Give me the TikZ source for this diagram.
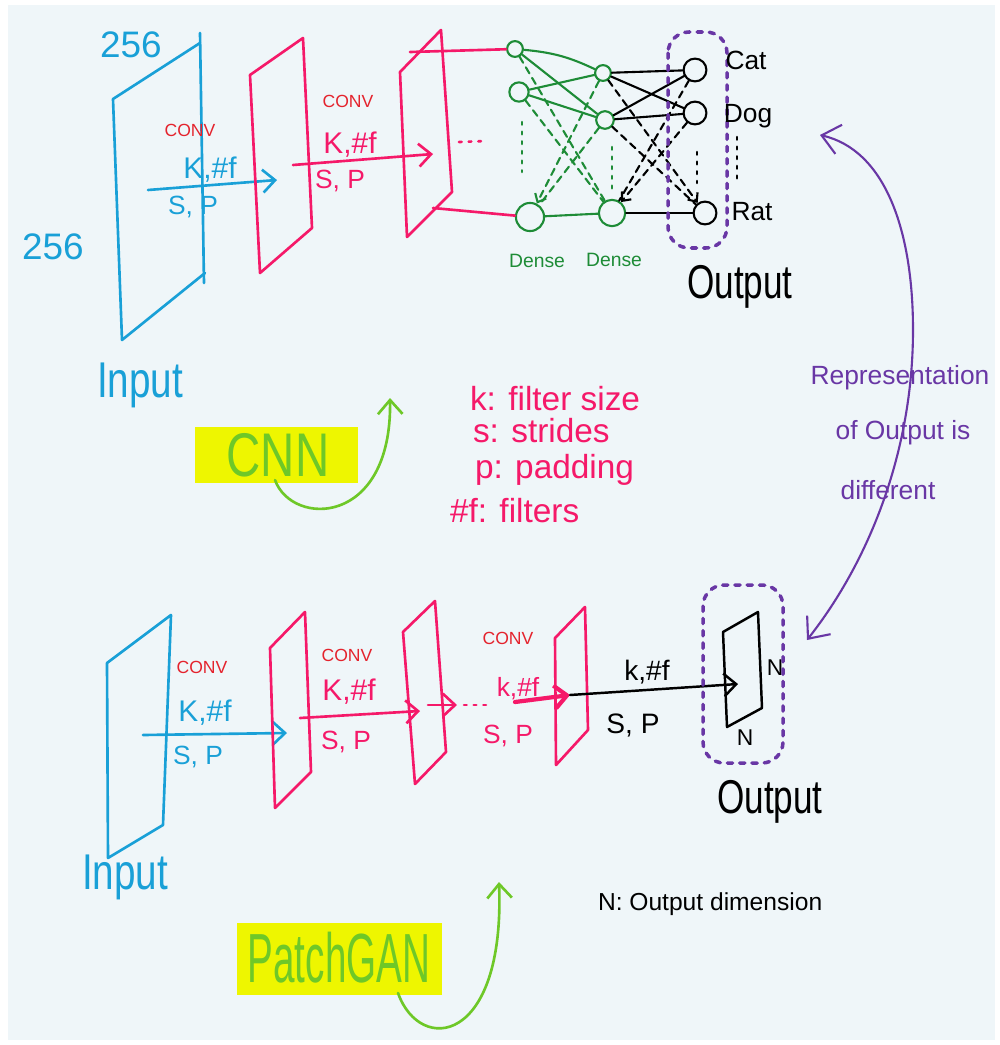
\documentclass[tikz,border=0pt]{standalone}
\usepackage{fontspec}
\setmainfont{Liberation Sans}
\usetikzlibrary{arrows.meta}
\definecolor{bgc}{RGB}{239,246,249}
\definecolor{cblue}{RGB}{25,160,215}
\definecolor{cpink}{RGB}{245,25,105}
\definecolor{cred}{RGB}{228,35,45}
\definecolor{cgreen}{RGB}{30,140,55}
\definecolor{lgreen}{RGB}{110,200,40}
\definecolor{hyellow}{RGB}{238,246,0}
\definecolor{cpurple}{RGB}{105,55,165}
\newcommand\fsz[1]{\fontsize{#1}{#1}\selectfont}
\newcommand\tallbox[2]{\scalebox{1}[#1]{#2}}
\begin{document}
\begin{tikzpicture}[x=0.02cm,y=-0.02cm,line cap=round,line join=round,
  >={Straight Barb[length=7pt,width=13pt]},
  txt/.style={inner sep=0pt,outer sep=0pt},
  bl/.style={draw=cblue,line width=1.5pt},
  pk/.style={draw=cpink,line width=1.5pt},
  bk/.style={draw=black,line width=1.2pt},
  gr/.style={draw=cgreen,line width=1.2pt},
  pu/.style={draw=cpurple,line width=1.2pt},
  lg/.style={draw=lgreen,line width=1.5pt},
  pudot/.style={draw=cpurple,line width=2pt,dash pattern=on 3pt off 4pt,rounded corners=12pt},
  dotln/.style={line width=1.5pt,dash pattern=on 1.5pt off 4pt},
  dashln/.style={dash pattern=on 4pt off 3pt},
  smallhead/.style={-{Straight Barb[length=4pt,width=7pt]}},
  neuron/.style={circle,draw,line width=1.2pt,inner sep=0pt,minimum size=#1},
  neuron/.default=12pt
]
\path[use as bounding box] (0,0) rectangle (1000,1045);
\fill[white] (0,0) rectangle (1000,1045);
\fill[bgc] (8,5) rectangle (995,1040);

% ---------------- TOP: CNN ----------------
\coordinate (i1a) at (113,99); \coordinate (i1b) at (200,43);
\coordinate (i1c) at (205,273); \coordinate (i1d) at (122,340);
\coordinate (i1t) at (200,33); \coordinate (i1u) at (204,283);
\draw[bl] (i1b) -- (i1a) -- (i1d) -- (i1c);
\draw[bl] (i1t) -- (i1u);
\node[txt,font=\fsz{21},text=cblue] (d256a) at (131,45) {256};
\node[txt,font=\fsz{21},text=cblue] (d256b) at (53,247) {256};
\node[txt,font=\fsz{10},text=cred] (conv1) at (190,130) {CONV};
\node[txt,font=\fsz{17},text=cblue] (kf1) at (210,170) {K,\#f};
\node[txt,font=\fsz{15},text=cblue] (sp1) at (193,207) {S, P};
\coordinate (a1s) at (148,190); \coordinate (a1e) at (277,180);
\draw[bl,->] (a1s) -- (a1e);
\node[txt,font=\fsz{22},text=cblue] (in1) at (140,385) {\tallbox{1.3}{Input}};

\coordinate (p1a) at (250,75); \coordinate (p1b) at (303,38);
\coordinate (p1c) at (312,228); \coordinate (p1d) at (260,273);
\draw[pk] (p1a) -- (p1b) -- (p1c) -- (p1d) -- cycle;
\node[txt,font=\fsz{10},text=cred] (conv2) at (348,101) {CONV};
\node[txt,font=\fsz{17},text=cpink] (kf2) at (350,145) {K,\#f};
\node[txt,font=\fsz{15},text=cpink] (sp2) at (340,181) {S, P};
\coordinate (a2s) at (293,165); \coordinate (a2e) at (433,154);
\draw[pk,->] (a2s) -- (a2e);

\coordinate (p2a) at (400,72); \coordinate (p2b) at (441,30);
\coordinate (p2c) at (452,192); \coordinate (p2d) at (407,237);
\draw[pk] (p2a) -- (p2b) -- (p2c) -- (p2d) -- cycle;
\coordinate (p2e) at (410,52); \coordinate (p2f) at (433,208);
\coordinate (dt1s) at (459,142); \coordinate (dt1e) at (487,141);
\draw[pk,dotln] (dt1s) -- (dt1e);

\node[neuron=9pt,draw=cgreen] (A1) at (515,49) {};
\node[neuron=11pt,draw=cgreen] (A2) at (519,92) {};
\node[neuron=16pt,draw=cgreen] (A3) at (530,217) {};
\node[neuron=9pt,draw=cgreen] (B1) at (603,73) {};
\node[neuron=10pt,draw=cgreen] (B2) at (605,120) {};
\node[neuron=15pt,draw=cgreen] (B3) at (612,213) {};
\node[neuron=13pt,draw=black] (C1) at (695,70) {};
\node[neuron=13pt,draw=black] (C2) at (695,113) {};
\node[neuron=13pt,draw=black] (C3) at (705,213) {};

\draw[pk] (p2e) -- (A1);
\draw[pk] (p2f) -- (A3);

\draw[gr] (A1) to[bend left=10] (B1);
\draw[gr] (A1) -- (B2);
\draw[gr] (A2) -- (B1);
\draw[gr] (A2) -- (B2);
\draw[gr] (A3) -- (B3);
\draw[gr,dashln] (A1) -- (B3);
\draw[gr,dashln] (A2) -- (B3);
\draw[gr,dashln,smallhead] (B1) -- (A3);
\draw[gr,dashln] (B2) -- (A3);

\draw[bk] (B1) -- (C1);
\draw[bk] (B1) -- (C2);
\draw[bk] (B2) -- (C1);
\draw[bk] (B2) -- (C2);
\draw[bk] (B3) -- (C3);
\draw[bk,dashln,smallhead] (B1) -- (C3);
\draw[bk,dashln] (B2) -- (C3);
\draw[bk,dashln] (C1) -- (B3);
\draw[bk,dashln,smallhead] (C2) -- (B3);

\coordinate (v1a) at (522,122); \coordinate (v1b) at (522,172);
\coordinate (v2a) at (612,147); \coordinate (v2b) at (612,194);
\coordinate (v3a) at (697,152); \coordinate (v3b) at (697,183);
\coordinate (v4a) at (737,137); \coordinate (v4b) at (737,180);
\draw[draw=cgreen,dotln] (v1a) -- (v1b);
\draw[draw=cgreen,dotln] (v2a) -- (v2b);
\draw[draw=black,dotln] (v3a) -- (v3b);
\draw[draw=black,dotln] (v4a) -- (v4b);

\draw[pudot] (668,32) rectangle (727,248);

\node[txt,font=\fsz{15}] (cat) at (746,60) {Cat};
\node[txt,font=\fsz{15}] (dog) at (748,116) {Dog};
\node[txt,font=\fsz{15}] (rat) at (752,212) {Rat};
\node[txt,font=\fsz{11},text=cgreen] (dense1) at (537,261) {Dense};
\node[txt,font=\fsz{11},text=cgreen] (dense2) at (614,260) {Dense};
\node[txt,font=\fsz{20}] (out1) at (740,287) {\tallbox{1.35}{Output}};

\fill[hyellow] (195,427) rectangle (358,483);
\node[txt,font=\fsz{27},text=lgreen] (cnn) at (278,455) {\tallbox{1.3}{CNN}};
\coordinate (cnnS) at (275,480); \coordinate (cnnT) at (390,398);
\draw[lg,-{Straight Barb[length=8pt,width=14pt]}] (cnnS) .. controls (292,527) and (392,527) .. (cnnT);

\node[txt,anchor=base west,font=\fsz{19},text=cpink] (lk) at (470,410) {k: filter size};
\node[txt,anchor=base west,font=\fsz{19},text=cpink] (ls) at (473,442) {s: strides};
\node[txt,anchor=base west,font=\fsz{19},text=cpink] (lp) at (475,478) {p: padding};
\node[txt,anchor=base west,font=\fsz{19},text=cpink] (lf) at (450,522) {\#f: filters};

\coordinate (rt) at (820,135); \coordinate (rb) at (807,640);
\draw[pu,{Straight Barb[length=10pt,width=17pt]}-{Straight Barb[length=10pt,width=17pt]}]
  (rt) .. controls (885,150) and (913,230) .. (913,330)
       .. controls (913,450) and (870,560) .. (rb);
\node[txt,font=\fsz{15},text=cpurple] (rep1) at (900,378) {Representation};
\node[txt,font=\fsz{15},text=cpurple] (rep2) at (903,433) {of Output is};
\node[txt,font=\fsz{15},text=cpurple] (rep3) at (888,490) {different};

% ---------------- BOTTOM: PatchGAN ----------------
\coordinate (ja) at (107,663); \coordinate (jb) at (171,615);
\coordinate (jc) at (163,825); \coordinate (jd) at (108,858);
\draw[bl] (ja) -- (jb) -- (jc) -- (jd) -- cycle;
\node[txt,font=\fsz{10},text=cred] (conv3) at (202,667) {CONV};
\node[txt,font=\fsz{17},text=cblue] (kf3) at (205,713) {K,\#f};
\node[txt,font=\fsz{15},text=cblue] (sp3) at (198,757) {S, P};
\coordinate (b1s) at (143,735); \coordinate (b1e) at (287,733);
\draw[bl,->] (b1s) -- (b1e);
\node[txt,font=\fsz{22},text=cblue] (in2) at (125,877) {\tallbox{1.3}{Input}};

\coordinate (qa) at (270,648); \coordinate (qb) at (305,612);
\coordinate (qc) at (311,772); \coordinate (qd) at (275,808);
\draw[pk] (qa) -- (qb) -- (qc) -- (qd) -- cycle;
\node[txt,font=\fsz{10},text=cred] (conv4) at (347,655) {CONV};
\node[txt,font=\fsz{17},text=cpink] (kf4) at (349,692) {K,\#f};
\node[txt,font=\fsz{15},text=cpink] (sp4) at (346,742) {S, P};
\coordinate (b2s) at (300,718); \coordinate (b2e) at (420,711);
\draw[pk,->] (b2s) -- (b2e);

\coordinate (ra) at (403,632); \coordinate (rbb) at (435,601);
\coordinate (rc) at (446,752); \coordinate (rd) at (415,784);
\draw[pk] (ra) -- (rbb) -- (rc) -- (rd) -- cycle;
\coordinate (b3s) at (428,705); \coordinate (b3e) at (457,705);
\draw[pk,->] (b3s) -- (b3e);
\coordinate (dt2s) at (464,705); \coordinate (dt2e) at (490,705);
\draw[pk,dotln] (dt2s) -- (dt2e);
\node[txt,font=\fsz{10},text=cred] (conv5) at (508,638) {CONV};
\node[txt,font=\fsz{15},text=cpink] (kf5) at (518,689) {k,\#f};
\node[txt,font=\fsz{15},text=cpink] (sp5) at (508,736) {S, P};
\coordinate (b4s) at (515,702); \coordinate (b4e) at (570,695);
\draw[pk,line width=2.4pt,->] (b4s) -- (b4e);

\coordinate (sa) at (555,638); \coordinate (sb) at (585,607);
\coordinate (sc) at (588,730); \coordinate (sd) at (556,765);
\draw[pk] (sa) -- (sb) -- (sc) -- (sd) -- cycle;

\coordinate (b5s) at (570,695); \coordinate (b5e) at (738,684);
\draw[bk,line width=1.4pt,->] (b5s) -- (b5e);
\node[txt,font=\fsz{16}] (kf6) at (647,672) {k,\#f};
\node[txt,font=\fsz{16}] (sp6) at (633,725) {S, P};

\coordinate (oa) at (723,632); \coordinate (ob) at (758,612);
\coordinate (oc) at (762,708); \coordinate (od) at (727,727);
\draw[bk,line width=1.4pt] (oa) -- (ob) -- (oc) -- (od) -- cycle;
\node[txt,font=\fsz{13}] (nr) at (775,668) {N};
\node[txt,font=\fsz{13}] (nb) at (745,738) {N};
\draw[pudot] (703,585) rectangle (783,763);
\node[txt,font=\fsz{20}] (out2) at (770,802) {\tallbox{1.35}{Output}};
\node[txt,anchor=base west,font=\fsz{14}] (ndim) at (598,910) {N: Output dimension};

\fill[hyellow] (237,923) rectangle (442,995);
\node[txt,font=\fsz{22},text=lgreen] (pgan) at (339,958) {\tallbox{1.8}{PatchGAN}};
\coordinate (pgS) at (398,993); \coordinate (pgT) at (499,882);
\draw[lg,-{Straight Barb[length=8pt,width=14pt]}] (pgS) .. controls (420,1055) and (505,1045) .. (pgT);
\end{tikzpicture}
\end{document}
